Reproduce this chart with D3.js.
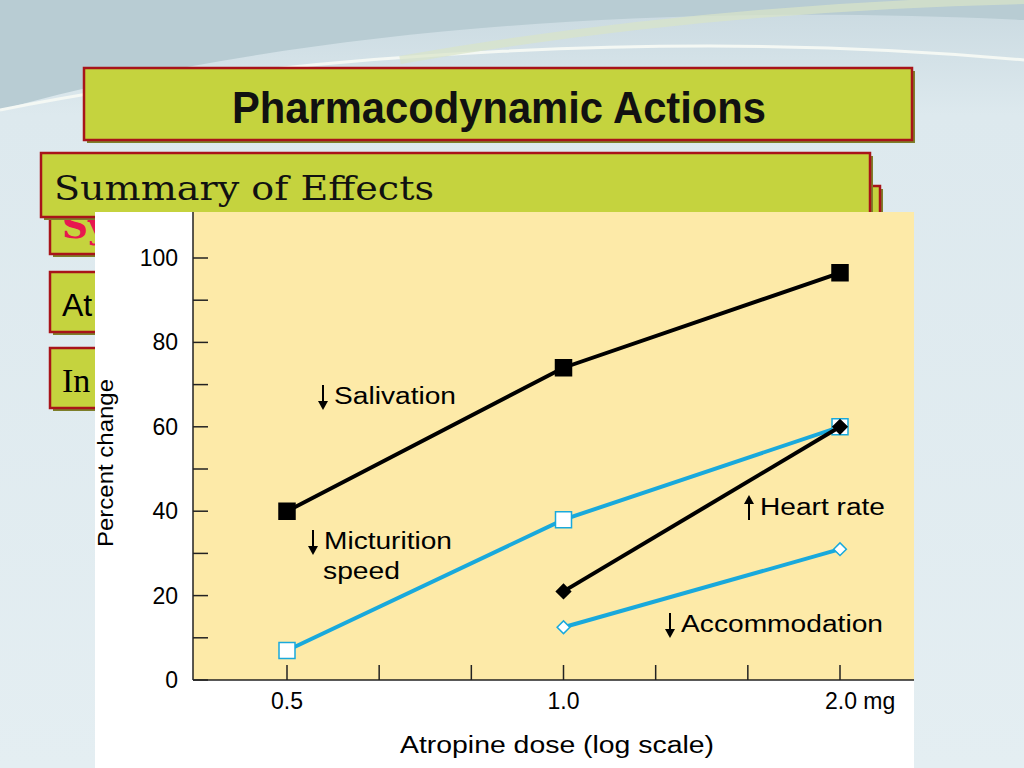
<!DOCTYPE html>
<html><head><meta charset="utf-8">
<script src="https://cdn.jsdelivr.net/npm/d3@7"></script>
<style>body{margin:0;overflow:hidden}</style>
</head><body>
<div class="container"></div>
<script>
// Chart data
const doses = [0.5, 1.0, 2.0];
const salivation = [40, 74, 96.5];
const micturition = [7, 38, 60];
const heartDoses = [1.0, 2.0];
const heartRate = [21, 60];
const accommodation = [12.5, 31];
const yTicks = [0, 20, 40, 60, 80, 100];
const xLabels = ["0.5", "1.0", "2.0 mg"];

const width = 1024, height = 768;
const svg = d3.select(".container").append("svg")
    .attr("width", width).attr("height", height);

// Slide background
const defs = svg.append("defs");
const bg = defs.append("linearGradient").attr("id", "bg").attr("x1", 0).attr("y1", 0).attr("x2", 0).attr("y2", 1);
bg.append("stop").attr("offset", 0).attr("stop-color", "#c9d9e0");
bg.append("stop").attr("offset", 0.15).attr("stop-color", "#dde9ee");
bg.append("stop").attr("offset", 1).attr("stop-color", "#e4eef2");
svg.append("rect").attr("width", width).attr("height", height).attr("fill", "url(#bg)");
svg.append("path").attr("d", "M0,110 C250,40 600,0 1024,20 L1024,0 L0,0 Z").attr("fill", "#b8ccd3");
svg.append("path").attr("d", "M0,110 C300,50 700,30 1024,60").attr("fill", "none").attr("stroke", "#f4f8f4").attr("stroke-width", 3);
svg.append("path").attr("d", "M400,60 C600,25 800,5 1024,0").attr("fill", "none").attr("stroke", "#d8e4c8").attr("stroke-width", 8).attr("opacity", 0.7);

// Olive boxes
function box(x, y, w, h) {
  svg.append("rect").attr("x", x + 3).attr("y", y + 3).attr("width", w).attr("height", h).attr("fill", "#7d7f2a");
  svg.append("rect").attr("x", x).attr("y", y).attr("width", w).attr("height", h)
    .attr("fill", "#c5d33e").attr("stroke", "#a8141a").attr("stroke-width", 2.5);
}
box(50, 186, 830, 68);
svg.append("text").attr("x", 62).attr("y", 238).attr("font-family", "DejaVu Serif, serif").attr("font-size", 36)
  .attr("font-weight", "bold").attr("fill", "#e8174f").text("Sy");
box(50, 272, 300, 60);
svg.append("text").attr("x", 62).attr("y", 316).attr("font-family", "Liberation Sans, sans-serif").attr("font-size", 32).text("At");
box(50, 348, 300, 60);
svg.append("text").attr("x", 62).attr("y", 392).attr("font-family", "Liberation Serif, serif").attr("font-size", 34).text("In");

box(84, 68, 828, 72);
svg.append("text").attr("x", 232).attr("y", 123)
  .attr("font-family", "Liberation Sans Narrow, Liberation Sans, sans-serif").attr("font-weight", "bold")
  .attr("font-size", 44).attr("fill", "#111").attr("textLength", 534).attr("lengthAdjust", "spacingAndGlyphs")
  .text("Pharmacodynamic Actions");
box(41, 153, 829, 64);

// Chart panel
svg.append("rect").attr("x", 95).attr("y", 212).attr("width", 819).attr("height", 556).attr("fill", "#fff");
svg.append("rect").attr("x", 193).attr("y", 212).attr("width", 721).attr("height", 468).attr("fill", "#fdeaa8");

svg.append("text").attr("x", 54).attr("y", 200).attr("font-family", "DejaVu Serif, serif").attr("font-size", 34)
  .attr("fill", "#111").attr("textLength", 380).attr("lengthAdjust", "spacingAndGlyphs").text("Summary of Effects");

const x = d3.scaleLog().base(2).domain([0.5, 2]).range([287, 840]);
const y = d3.scaleLinear().domain([0, 100]).range([680, 258]);
const font = "Liberation Sans, Arial, sans-serif";

// Axes
svg.append("line").attr("x1", 193).attr("x2", 193).attr("y1", 212).attr("y2", 680).attr("stroke", "#222").attr("stroke-width", 1.5);
svg.append("line").attr("x1", 193).attr("x2", 914).attr("y1", 680).attr("y2", 680).attr("stroke", "#222").attr("stroke-width", 1.5);
const yMinor = d3.range(0, 101, 10);
svg.selectAll(".yt").data(yMinor).enter().append("line")
  .attr("x1", 193).attr("x2", 208).attr("y1", d => y(d)).attr("y2", d => y(d)).attr("stroke", "#222").attr("stroke-width", 1.5);
svg.selectAll(".yl").data(yTicks).enter().append("text")
  .attr("x", 178).attr("y", d => y(d) + 8).attr("text-anchor", "end")
  .attr("font-family", font).attr("font-size", 23).text(d => d);
const xMinor = d3.range(-3, 4).map(i => Math.pow(2, i / 3));
svg.selectAll(".xt").data(xMinor).enter().append("line")
  .attr("x1", d => x(d)).attr("x2", d => x(d)).attr("y1", 665).attr("y2", 680).attr("stroke", "#222").attr("stroke-width", 1.5);
svg.selectAll(".xl").data(doses).enter().append("text")
  .attr("x", (d, i) => i === 2 ? x(d) - 15 : x(d)).attr("y", 709)
  .attr("text-anchor", (d, i) => i === 2 ? "start" : "middle")
  .attr("font-family", font).attr("font-size", 23).text((d, i) => xLabels[i]);
svg.append("text").attr("x", 400).attr("y", 753)
  .attr("font-family", font).attr("font-size", 23).attr("textLength", 314).attr("lengthAdjust", "spacingAndGlyphs")
  .text("Atropine dose (log scale)");
svg.append("text").attr("transform", "translate(113,547) rotate(-90)")
  .attr("font-family", font).attr("font-size", 22).attr("textLength", 168).attr("lengthAdjust", "spacingAndGlyphs")
  .text("Percent change");

// Series
const line = d3.line().x(d => x(d[0])).y(d => y(d[1]));
function series(xs, ys, color, shape, fill, size) {
  const pts = xs.map((d, i) => [d, ys[i]]);
  svg.append("path").datum(pts).attr("d", line).attr("fill", "none").attr("stroke", color).attr("stroke-width", 4);
  svg.selectAll(null).data(pts).enter().append("path")
    .attr("transform", d => `translate(${x(d[0])},${y(d[1])})` + (shape === "d" ? " rotate(45)" : ""))
    .attr("d", `M${-size},${-size}h${2 * size}v${2 * size}h${-2 * size}Z`)
    .attr("fill", fill).attr("stroke", color).attr("stroke-width", 1.5);
}
series(doses, micturition, "#19a9dc", "s", "#fff", 8);
series(heartDoses, accommodation, "#19a9dc", "d", "#fff", 4.5);
series(doses, salivation, "#000", "s", "#000", 8);
series(heartDoses, heartRate, "#000", "d", "#000", 5);

// Labels with arrows
function label(tx, ty, lines, widths, up) {
  const ax = tx - 11;
  const y0 = ty - 19, y1 = ty + 5;
  svg.append("line").attr("x1", ax).attr("x2", ax).attr("y1", up ? y1 : y0).attr("y2", up ? y0 + 4 : y1 - 4)
    .attr("stroke", "#000").attr("stroke-width", 2);
  svg.append("path").attr("d", up ? `M${ax - 5},${y0 + 8}L${ax},${y0 - 1}L${ax + 5},${y0 + 8}Z` : `M${ax - 5},${y1 - 8}L${ax},${y1 + 1}L${ax + 5},${y1 - 8}Z`);
  lines.forEach((t, i) => svg.append("text").attr("x", tx + (i ? -1 : 0)).attr("y", ty + i * 30)
    .attr("font-family", font).attr("font-size", 23)
    .attr("textLength", widths[i]).attr("lengthAdjust", "spacingAndGlyphs").text(t));
}
label(334, 404, ["Salivation"], [122], false);
label(324, 549, ["Micturition", "speed"], [128, 77], false);
label(760, 515, ["Heart rate"], [125], true);
label(681, 632, ["Accommodation"], [202], false);
</script>
</body></html>
